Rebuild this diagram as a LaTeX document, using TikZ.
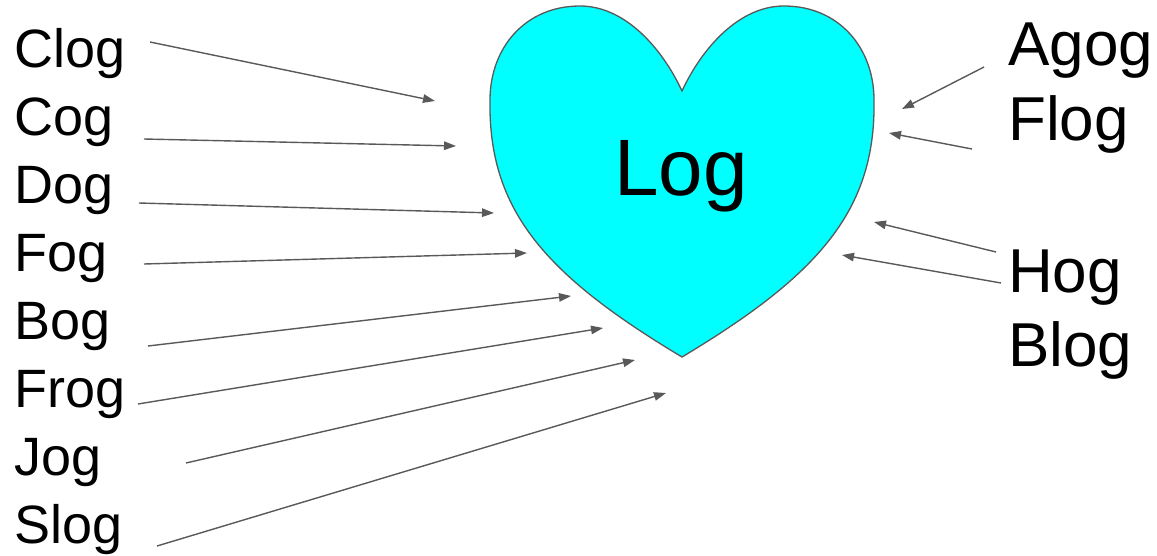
\documentclass[tikz,border=0pt]{standalone}
\usepackage{fontspec}
\setmainfont{Liberation Sans}
\usetikzlibrary{arrows.meta}
\definecolor{heartcyan}{HTML}{00FFFF}
\definecolor{linegray}{HTML}{595959}

\begin{document}
\begin{tikzpicture}[x=1pt,y=-1pt]

\tikzstyle{word}=[anchor=base west,inner sep=0pt,font=\fontsize{54}{54}\selectfont]
\tikzstyle{bigword}=[word,font=\fontsize{62}{62}\selectfont]
\tikzstyle{pointer}=[draw=linegray,line width=1.4pt,-{Triangle[length=12pt,width=8.5pt]}]

\useasboundingbox (0,0) rectangle (1157,555);

% heart
\draw [fill=heartcyan,draw=linegray,line width=1.3pt]
  (682,91) .. controls (662,48) and (625,6) .. (580,6)
  .. controls (525,6) and (490,48) .. (490,100)
  .. controls (488,210) and (545,275) .. (682,357)
  .. controls (819,275) and (876,210) .. (874,100)
  .. controls (874,48) and (839,6) .. (784,6)
  .. controls (739,6) and (702,48) .. (682,91) -- cycle;
\node [anchor=base west,inner sep=0pt,font=\fontsize{80}{80}\selectfont] (log) at (614,195) {Log};

% words on the left
\node [word] (clog) at (14,67) {Clog};
\node [word] (cog) at (14,135) {Cog};
\node [word] (dog) at (14,203) {Dog};
\node [word] (fog) at (14,271) {Fog};
\node [word] (bog) at (14,339) {Bog};
\node [word] (frog) at (14,407) {Frog};
\node [word] (jog) at (14,475) {Jog};
\node [word] (slog) at (14,543) {Slog};

% words on the right
\node [bigword] (agog) at (1008,65) {Agog};
\node [bigword] (flog) at (1008,140) {Flog};
\node [bigword] (hog) at (1008,292) {Hog};
\node [bigword] (blog) at (1008,366) {Blog};

% arrow ends
\coordinate (clog-from) at (150,42);
\coordinate (clog-to) at (435,101);
\coordinate (cog-from) at (144,139);
\coordinate (cog-to) at (456,146);
\coordinate (dog-from) at (139,203);
\coordinate (dog-to) at (494,213);
\coordinate (fog-from) at (144,264);
\coordinate (fog-to) at (527,253);
\coordinate (bog-from) at (148,346);
\coordinate (bog-to) at (571,296);
\coordinate (frog-from) at (138,404);
\coordinate (frog-to) at (603,328);
\coordinate (jog-from) at (186,463);
\coordinate (jog-to) at (635,360);
\coordinate (slog-from) at (157,546);
\coordinate (slog-to) at (666,393);
\coordinate (agog-from) at (984,67);
\coordinate (agog-to) at (902,109);
\coordinate (flog-from) at (972,149);
\coordinate (flog-to) at (889,133);
\coordinate (hog-from) at (996,252);
\coordinate (hog-to) at (874,222);
\coordinate (blog-from) at (1001,283);
\coordinate (blog-to) at (842,255);

\draw [pointer] (clog-from) -- (clog-to);
\draw [pointer] (cog-from) -- (cog-to);
\draw [pointer] (dog-from) -- (dog-to);
\draw [pointer] (fog-from) -- (fog-to);
\draw [pointer] (bog-from) -- (bog-to);
\draw [pointer] (frog-from) -- (frog-to);
\draw [pointer] (jog-from) -- (jog-to);
\draw [pointer] (slog-from) -- (slog-to);
\draw [pointer] (agog-from) -- (agog-to);
\draw [pointer] (flog-from) -- (flog-to);
\draw [pointer] (hog-from) -- (hog-to);
\draw [pointer] (blog-from) -- (blog-to);

\end{tikzpicture}
\end{document}
